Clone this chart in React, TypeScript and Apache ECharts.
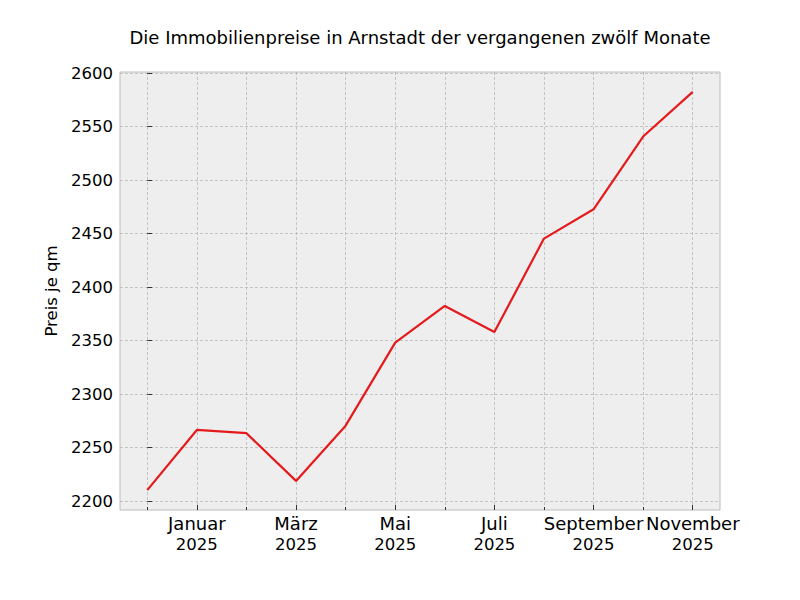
import React, { useEffect, useRef } from "react";
import * as echarts from "echarts";

const titleText = "Die Immobilienpreise in Arnstadt der vergangenen zwölf Monate";
const yAxisName = "Preis je qm";
const months = [
  "Dezember", "Januar", "Februar", "März", "April", "Mai",
  "Juni", "Juli", "August", "September", "Oktober", "November",
];
const years = ["2024", "2025", "2025", "2025", "2025", "2025", "2025", "2025", "2025", "2025", "2025", "2025"];
const prices = [2210.2, 2266.4, 2263.4, 2218.8, 2270.4, 2348.0, 2382.3, 2358.0, 2445.3, 2472.7, 2540.7, 2582.4];
const majorMonthIdx = [1, 3, 5, 7, 9, 11];
const minorMonthIdx = [0, 2, 4, 6, 8, 10];
const yTicks = [2200, 2250, 2300, 2350, 2400, 2450, 2500, 2550, 2600];

const FONT = "DejaVu Sans";

export default function App() {
  const ref = useRef<HTMLDivElement>(null);
  useEffect(() => {
    if (!ref.current) return;
    const chart = echarts.init(ref.current, null, { renderer: "svg" });
    const xMin = -0.55;
    const xMax = prices.length - 1 + 0.55;
    const range = Math.max(...prices) - Math.min(...prices);
    const yMin = Math.min(...prices) - 0.05 * range;
    const yMax = Math.max(...prices) + 0.05 * range;
    const gridLine = { show: true, lineStyle: { color: "#b2b2b2", type: [3, 2], width: 0.7 } };
    chart.setOption({
      animation: false,
      backgroundColor: "#ffffff",
      textStyle: { fontFamily: FONT },
      grid: {
        left: 120, top: 72, right: 80, bottom: 90,
        show: true, backgroundColor: "#eeeeee", borderColor: "#bcbcbc", borderWidth: 1,
        containLabel: false,
      },
      graphic: [
        {
          type: "text", x: 420, y: 37,
          style: {
            text: titleText, fontFamily: FONT, fontSize: 18, fill: "#000",
            textAlign: "center", textVerticalAlign: "middle",
          },
        },
      ],
      xAxis: [
        {
          type: "value", min: xMin, max: xMax, position: "bottom",
          axisLine: { show: false },
          axisTick: { show: true, inside: true, length: 5, customValues: majorMonthIdx, lineStyle: { color: "#333", width: 1 } },
          axisLabel: {
            show: true, customValues: majorMonthIdx, fontFamily: FONT, fontSize: 16.5, color: "#000",
            lineHeight: 21, margin: 3,
            formatter: (v: number) => "{m|" + months[Math.round(v)] + "}\n{y|" + years[Math.round(v)] + "}",
            rich: {
              m: { fontFamily: FONT, fontSize: 18, lineHeight: 21, color: "#000" },
              y: { fontFamily: FONT, fontSize: 16.5, lineHeight: 21, color: "#000" },
            },
          },
          splitLine: gridLine,
        },
        {
          type: "value", min: xMin, max: xMax, position: "bottom",
          axisLine: { show: false },
          axisTick: { show: true, inside: true, length: 3, customValues: minorMonthIdx, lineStyle: { color: "#333", width: 1 } },
          axisLabel: { show: false },
          splitLine: gridLine,
        },
      ],
      yAxis: {
        type: "value", min: yMin, max: yMax,
        name: yAxisName, nameLocation: "middle", nameRotate: 90, nameGap: 42,
        nameTextStyle: { fontFamily: FONT, fontSize: 16.5, color: "#000" },
        axisLine: { show: false },
        axisTick: { show: true, inside: true, length: 5, customValues: yTicks, lineStyle: { color: "#333", width: 1 } },
        axisLabel: {
          show: true, customValues: yTicks, fontFamily: FONT, fontSize: 16.5, color: "#000", margin: 7,
          formatter: (v: number) => String(Math.round(v)),
        },
        splitLine: gridLine,
      },
      series: [
        {
          type: "line", xAxisIndex: 0,
          data: prices.map((p, i) => [i, p]),
          symbol: "none",
          lineStyle: { color: "#e41a1c", width: 2.2 },
          itemStyle: { color: "#e41a1c" },
        },
      ],
    });
    return () => chart.dispose();
  }, []);
  return <div ref={ref} style={{ width: 800, height: 600, position: "absolute", left: 0, top: 0 }} />;
}
